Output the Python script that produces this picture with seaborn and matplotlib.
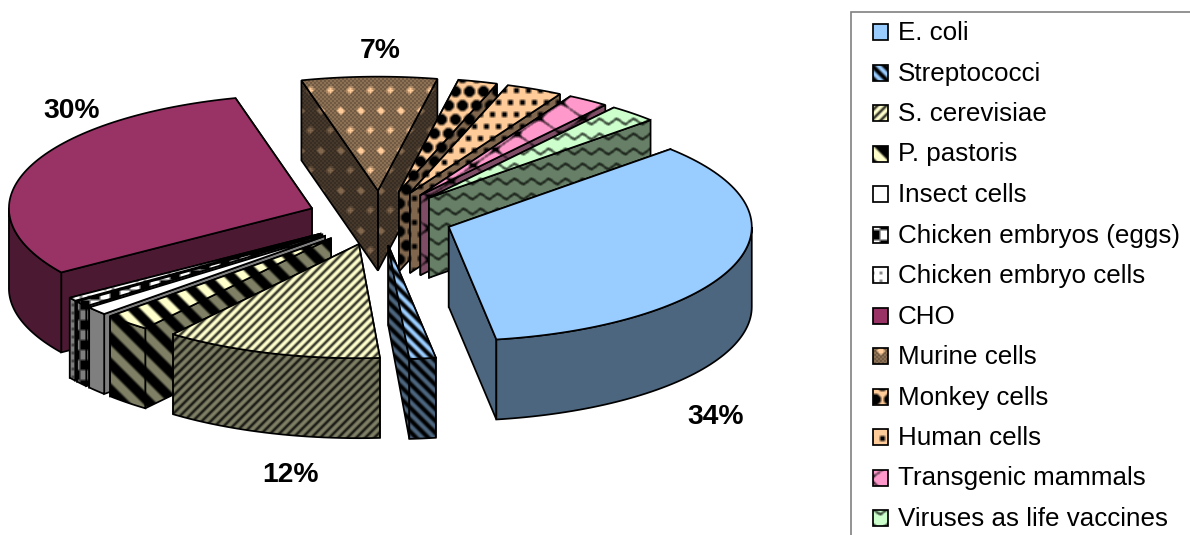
import numpy as np
import matplotlib
matplotlib.use("Agg")
import matplotlib.pyplot as plt
from matplotlib.patches import Polygon, Rectangle
import seaborn as sns

## data
names = ["E. coli", "Streptococci", "S. cerevisiae", "P. pastoris", "Insect cells",
         "Chicken embryos (eggs)", "Chicken embryo cells", "CHO", "Murine cells",
         "Monkey cells", "Human cells", "Transgenic mammals", "Viruses as life vaccines"]
shares = [34.4, 1.4, 11.6, 2.5, 1.2, 0.8, 0.5, 30.4, 7.2, 2.1, 3.0, 2.2, 2.6]
colors = ["#99CCFF", "#99CCFF", "#FFFFCC", "#FFFFCC", "#FFFFFF", "#FFFFFF", "#FFFFFF",
          "#993366", "#FFCC99", "#FFCC99", "#FFCC99", "#FF99CC", "#CCFFCC"]
patterns = ["plain", "wide", "fine", "huge", "plain", "check", "speck",
            "plain", "murine", "monkey", "human", "mosaic", "wave"]

## pie layout in pixels
W, H = 1190, 535
CX, CY = 380, 218
RX, RY = 303, 114
DEPTH = 80
EXPLODE = 0.24
START = 47

# label text comes from the share, only big slices get one
label_pos = {0: (716, 415), 2: (291, 473), 7: (72, 108), 8: (380, 48)}

sns.set_theme(style="white")
plt.rcParams["font.family"] = ["Liberation Sans", "DejaVu Sans"]
rgb = sns.color_palette(colors)

Y, X = np.mgrid[0:H, 0:W]


def lattice_dist(period):
    # offset to nearest point of a staggered lattice
    row = np.floor(Y / period)
    xs = (X + (row % 2) * period / 2) % period - period / 2
    ys = Y % period - period / 2
    return xs, ys


def pattern_mask(name):
    if name == "wide":
        return (X - Y) % 12 < 6
    if name == "fine":
        return (X + Y) % 9 < 3
    if name == "huge":
        return (X - Y) % 26 < 14
    if name == "check":
        return (X // 10 + Y // 10) % 2 == 0
    if name == "speck":
        return (X % 8 < 2) & (Y % 8 < 2)
    if name == "murine":
        xs, ys = lattice_dist(20)
        cross = ((np.abs(xs) < 1.5) & (np.abs(ys) < 3.5)) | ((np.abs(ys) < 1.5) & (np.abs(xs) < 3.5))
        return ((X // 2 + Y // 2) % 2 == 0) & ~cross
    if name == "monkey":
        xs, ys = lattice_dist(14)
        return np.hypot(xs, ys) < 5.5
    if name == "human":
        xs, ys = lattice_dist(12)
        return (np.abs(xs) < 2.6) & (np.abs(ys) < 2.6)
    if name == "mosaic":
        return np.abs(np.sin(X / 7.0) + np.sin(Y / 5.0)) < 0.13
    if name == "wave":
        return (Y + 2.5 * np.sin(2 * np.pi * X / 17.0)) % 15 < 2
    return np.zeros_like(X, dtype=bool)


def soften(mask):
    # the source picture is a scaled up bitmap, so pattern edges are a bit blurred
    m = mask.astype(float)
    out = m * 0
    for dx in (-1, 0, 1):
        for dy in (-1, 0, 1):
            out += np.roll(np.roll(m, dx, axis=1), dy, axis=0)
    return out / 9


def fill_face(ax, pts, base, name, shade, z):
    # textured fill clipped to the face, black pattern on the slice colour
    keep = 1 - soften(pattern_mask(name))
    img = keep[:, :, None] * np.array(base) * shade
    poly = Polygon(pts, closed=True, facecolor="none", edgecolor="black", linewidth=1.25, zorder=z + 0.5)
    ax.add_patch(poly)
    im = ax.imshow(img, extent=(0, W, H, 0), interpolation="bilinear", aspect="auto", zorder=z)
    im.set_clip_path(poly)


def rim(x0, y0, t):
    return np.c_[x0 + RX * np.sin(t), y0 - RY * np.cos(t)]


fig = plt.figure(figsize=(W / 100, H / 100), dpi=100)
ax = fig.add_axes([0, 0, 1, 1])

spans = np.array(shares) / np.sum(shares) * 360
t_start = START + np.r_[0, np.cumsum(spans)[:-1]]
t_end = t_start + spans
mids = np.radians((t_start + t_end) / 2)
apex_x = CX + EXPLODE * RX * np.sin(mids)
apex_y = CY - EXPLODE * RY * np.cos(mids)

# back slices first, murine behind its neighbours
order = np.argsort(apex_y + (np.array(patterns) != "murine") * 3)
z = 2
for i in order:
    x0, y0 = apex_x[i], apex_y[i]
    base, name = rgb[i], patterns[i]
    a1, a2 = np.radians(t_start[i]), np.radians(t_end[i])
    p1, p2 = rim(x0, y0, np.array([a1, a2]))
    apex = np.array([x0, y0])
    down = np.array([0, DEPTH])
    # the two cut walls, the one further back goes first
    for p in sorted([p1, p2], key=lambda q: q[1]):
        fill_face(ax, [apex, p, p + down, apex + down], base, name, 0.5, z)
        z += 1
    # outer wall, only the part that faces the viewer
    for shift in (0, 2 * np.pi):
        lo, hi = max(a1, np.pi / 2 + shift), min(a2, 1.5 * np.pi + shift)
        if hi > lo:
            arc = rim(x0, y0, np.linspace(lo, hi, 60))
            fill_face(ax, np.r_[arc, (arc + down)[::-1]], base, name, 0.5, z)
            z += 1
    # top
    fill_face(ax, np.r_[[apex], rim(x0, y0, np.linspace(a1, a2, 80))], base, name, 1.0, z)
    z += 1

for i, (lx, ly) in label_pos.items():
    ax.text(lx, ly + 2.5, f"{shares[i]:.0f}%", ha="center", va="center", fontsize=20.3,
            fontweight="bold", color="black", zorder=z)

## legend, its frame runs off the right and bottom of the picture
ax.add_patch(Rectangle((851, 12), 400, 600, facecolor="white", edgecolor="#808080", linewidth=1.2, zorder=z))
z += 1
for k, name in enumerate(names):
    yc = 32 + k * 40.5
    pts = [(873, yc - 8), (888, yc - 8), (888, yc + 8), (873, yc + 8)]
    fill_face(ax, pts, rgb[k], patterns[k], 1.0, z)
    z += 1
    ax.text(898, yc + 1, name, ha="left", va="center", fontsize=18.7, color="black", zorder=z)

ax.set_xlim(0, W)
ax.set_ylim(H, 0)
ax.axis("off")
fig.savefig("out.png", dpi=100)
